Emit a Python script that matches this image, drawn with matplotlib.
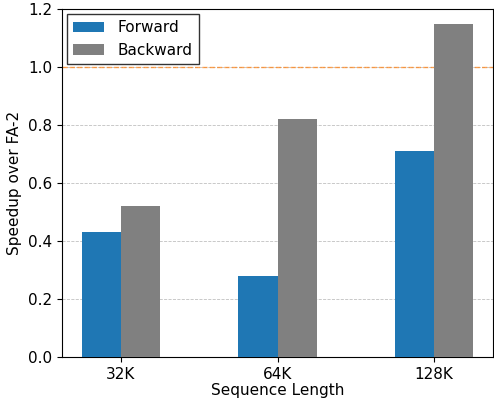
import matplotlib
matplotlib.use("Agg")
import matplotlib.pyplot as plt
import numpy as np

categories = ["32K", "64K", "128K"]
forward = [0.43, 0.28, 0.71]
backward = [0.52, 0.82, 1.15]

plt.rcParams["font.size"] = 11

fig, ax = plt.subplots(figsize=(4.94, 4.0), dpi=100)
fig.subplots_adjust(left=0.1255, right=0.998, top=0.9775, bottom=0.1075)
x = np.arange(len(categories))
w = 0.25
ax.bar(x - w / 2, forward, w, label="Forward", color="#1f77b4", zorder=3)
ax.bar(x + w / 2, backward, w, label="Backward", color="gray", zorder=3)
ax.axhline(1.0, color="#ff7f0e", linestyle="--", linewidth=1.0, alpha=0.7, zorder=2)
ax.set_xticks(x)
ax.set_xticklabels(categories)
ax.set_ylim(0, 1.2)
ax.set_xlabel("Sequence Length", labelpad=1)
ax.set_ylabel("Speedup over FA-2")
ax.grid(axis="y", linestyle="--", linewidth=0.6, alpha=0.8, zorder=0)
ax.legend(loc="upper left", fancybox=False, edgecolor="black",
          borderaxespad=0.35, handletextpad=0.9)
fig.savefig("out.png")
